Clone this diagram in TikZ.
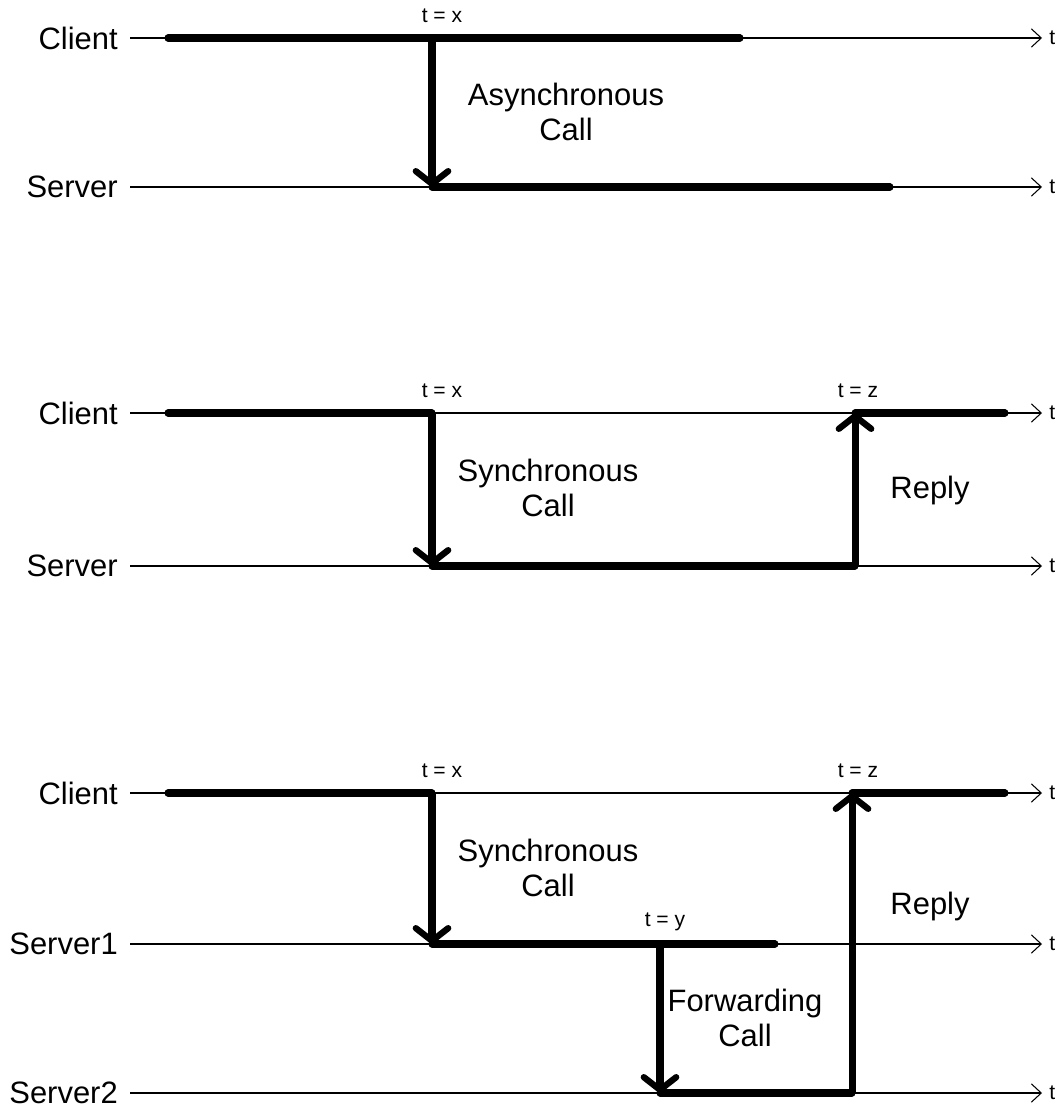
\documentclass[tikz,border=0pt]{standalone}
\usepackage{fontspec}
\setmainfont{Liberation Sans}
\usetikzlibrary{arrows.meta}
\begin{document}
\begin{tikzpicture}[x=0.025cm,y=-0.025cm,
  axis/.style={line width=0.75pt,-{Straight Barb[length=7pt,width=13pt,line width=0.75pt]}},
  busy/.style={line width=5pt,line cap=round},
  call/.style={line width=5pt,-{Straight Barb[length=9pt,width=23pt,line width=4.5pt,round]}},
  actor/.style={anchor=east,inner sep=0pt,font=\fontsize{22}{26}\selectfont},
  tlab/.style={anchor=west,inner sep=0pt,font=\fontsize{15}{18}\selectfont},
  timemark/.style={inner sep=0pt,font=\fontsize{15}{18}\selectfont},
  msg/.style={align=center,inner sep=0pt,font=\fontsize{22}{25}\selectfont}]
\useasboundingbox (0,0) rectangle (1062,1108);

% ---------- asynchronous call ----------
\node[actor] (c1) at (118,38) {Client};
\node[actor] (s1) at (118,187) {Server};
\coordinate (c1e) at (1042,38);
\coordinate (s1e) at (1042,187);
\node[tlab] (c1t) at (1049,38) {t};
\node[tlab] (s1t) at (1049,187) {t};
\draw[axis] (c1.east) ++(12,0) coordinate (c1s) -- (c1e);
\draw[axis] (s1.east) ++(12,0) coordinate (s1s) -- (s1e);
\coordinate (a1x) at (432,38);
\coordinate (a1y) at (432,187);
\draw[busy] (168,38) -- (740,38);
\draw[busy] (a1y) -- (890,187);
\draw[call] (a1x) -- (a1y);
\node[timemark] (a1m) at (442,16) {t = x};
\node[msg] (a1l) at (566,112) {Asynchronous\\Call};

% ---------- synchronous call ----------
\node[actor] (c2) at (118,413) {Client};
\node[actor] (s2) at (118,566) {Server};
\coordinate (c2e) at (1042,413);
\coordinate (s2e) at (1042,566);
\node[tlab] (c2t) at (1049,413) {t};
\node[tlab] (s2t) at (1049,566) {t};
\draw[axis] (c2.east) ++(12,0) -- (c2e);
\draw[axis] (s2.east) ++(12,0) -- (s2e);
\coordinate (b1x) at (432,413);
\coordinate (b1y) at (432,566);
\coordinate (b2x) at (855,566);
\coordinate (b2y) at (855,413);
\draw[busy] (168,413) -- (b1x);
\draw[busy] (b1y) -- (b2x);
\draw[busy] (b2y) -- (1005,413);
\draw[call] (b1x) -- (b1y);
\draw[call] (b2x) -- (b2y);
\node[timemark] (b1m) at (442,391) {t = x};
\node[timemark] (b2m) at (858,391) {t = z};
\node[msg] (b1l) at (548,488) {Synchronous\\Call};
\node[msg] (b2l) at (930,490) {Reply};

% ---------- forwarded synchronous call ----------
\node[actor] (c3) at (118,793) {Client};
\node[actor] (s3) at (118,944) {Server1};
\node[actor] (s4) at (118,1093) {Server2};
\coordinate (c3e) at (1042,793);
\coordinate (s3e) at (1042,944);
\coordinate (s4e) at (1042,1093);
\node[tlab] (c3t) at (1049,793) {t};
\node[tlab] (s3t) at (1049,944) {t};
\node[tlab] (s4t) at (1049,1093) {t};
\draw[axis] (c3.east) ++(12,0) -- (c3e);
\draw[axis] (s3.east) ++(12,0) -- (s3e);
\draw[axis] (s4.east) ++(12,0) -- (s4e);
\coordinate (d1x) at (432,793);
\coordinate (d1y) at (432,944);
\coordinate (d2x) at (660,944);
\coordinate (d2y) at (660,1093);
\coordinate (d3x) at (852,1093);
\coordinate (d3y) at (852,793);
\draw[busy] (168,793) -- (d1x);
\draw[busy] (d1y) -- (775,944);
\draw[busy] (d2y) -- (d3x);
\draw[busy] (d3y) -- (1005,793);
\draw[call] (d1x) -- (d1y);
\draw[call] (d2x) -- (d2y);
\draw[call] (d3x) -- (d3y);
\node[timemark] (d1m) at (442,771) {t = x};
\node[timemark] (d2m) at (665,922) {t = y};
\node[timemark] (d3m) at (858,771) {t = z};
\node[msg] (d1l) at (548,868) {Synchronous\\Call};
\node[msg] (d3l) at (930,906) {Reply};
\node[msg] (d2l) at (745,1018) {Forwarding\\Call};
\end{tikzpicture}
\end{document}
